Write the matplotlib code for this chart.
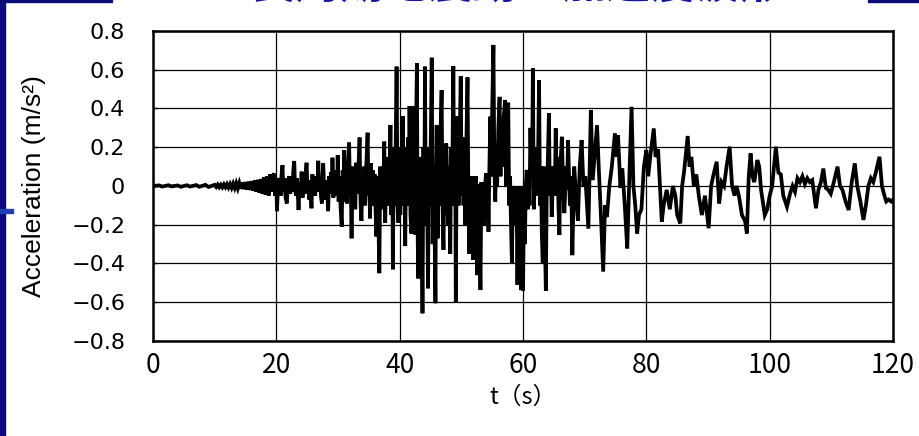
import matplotlib
matplotlib.use('Agg')
import matplotlib.pyplot as plt
from matplotlib.patches import Rectangle

# accelerogram: (t in s, acceleration in m/s^2)
early = [
    (0, 0), (1, 0.003), (1.5, -0.003), (2.5, 0.004), (3, -0.002), (4, 0.003),
    (4.5, -0.004), (5.5, 0.004), (6, -0.003), (7, 0.005), (7.5, -0.004), (8.5, 0.006),
    (9, -0.005), (10.0, 0.006), (10.25, -0.005), (10.5, 0.007), (10.75, -0.006),
    (11.0, 0.006), (11.25, -0.007), (11.5, 0.008), (11.75, -0.006), (12.0, 0.009),
    (12.25, -0.008), (12.5, 0.01), (12.75, -0.009), (13.0, 0.012), (13.25, -0.01),
    (13.5, 0.014), (13.75, -0.012), (14.0, 0.015), (14.25, -0.014), (14.5, 0.018),
    (14.75, -0.016), (15.0, 0.02), (15.25, -0.018), (15.5, 0.022), (15.75, -0.02),
    (16.0, 0.025), (16.25, -0.024), (16.5, 0.028), (16.75, -0.03), (17.0, 0.032),
    (17.25, -0.034), (17.5, 0.036), (17.75, -0.04), (18.0, 0.045), (18.25, -0.045),
    (18.5, 0.05), (18.75, -0.05),
]

strong = [
    (19.0, 0.06), (19.2, -0.03), (19.4, 0.05), (19.6, 0.065), (19.8, -0.05), (20.0, 0.03),
    (20.1, -0.13), (20.3, 0.02), (20.5, 0.04), (20.7, -0.05), (20.85, 0.06), (21.0, 0.108),
    (21.15, -0.03), (21.3, 0.04), (21.5, -0.06), (21.7, -0.09), (21.9, 0.03), (22.1, 0.05),
    (22.25, -0.04), (22.4, 0.02), (22.6, -0.03), (22.75, 0.08), (22.9, 0.129),
    (23.05, -0.02), (23.2, -0.05), (23.35, 0.04), (23.5, -0.06), (23.6, -0.124),
    (23.8, 0.02), (23.95, -0.03), (24.1, 0.074), (24.25, -0.06), (24.4, 0.03),
    (24.6, -0.04), (24.75, 0.06), (24.9, 0.12), (25.05, -0.02), (25.2, 0.03),
    (25.35, -0.07), (25.5, 0.02), (25.7, -0.115), (25.85, 0.06), (26.0, -0.04),
    (26.15, 0.03), (26.3, -0.05), (26.5, 0.05), (26.65, -0.03), (26.8, 0.13),
    (26.95, -0.02), (27.1, 0.04), (27.25, -0.06), (27.4, -0.09), (27.5, 0.05),
    (27.6, 0.117), (27.75, -0.02), (27.9, 0.03), (28.05, -0.07), (28.2, 0.02),
    (28.4, -0.13), (28.55, 0.05), (28.7, -0.04), (28.85, 0.07), (29.0, -0.03),
    (29.1, 0.146), (29.25, -0.06), (29.4, 0.04), (29.55, -0.05), (29.7, 0.08),
    (29.85, -0.02), (29.95, 0.16), (30.1, -0.08), (30.25, 0.05), (30.4, -0.1),
    (30.6, -0.21), (30.75, 0.08), (30.9, -0.05), (31.0, 0.186), (31.15, -0.08),
    (31.3, 0.05), (31.45, -0.09), (31.6, 0.1), (31.8, 0.224), (31.95, -0.05),
    (32.05, 0.06), (32.2, -0.27), (32.35, 0.1), (32.5, -0.06), (32.65, 0.07),
    (32.8, -0.12), (32.95, 0.12), (33.1, -0.04), (33.3, 0.08), (33.5, 0.25),
    (33.65, -0.08), (33.8, -0.18), (33.95, 0.05), (34.1, -0.06), (34.25, 0.1),
    (34.4, -0.1), (34.6, 0.12), (34.8, 0.275), (34.95, -0.05), (35.05, 0.06),
    (35.2, -0.167), (35.35, 0.117), (35.5, -0.05), (35.65, 0.08), (35.8, -0.1),
    (35.95, 0.06), (36.1, -0.12), (36.2, -0.26), (36.35, 0.05), (36.5, -0.08),
    (36.7, -0.45), (36.85, 0.1), (37.0, -0.12), (37.15, 0.08), (37.3, -0.1),
    (37.5, 0.229), (37.65, -0.19), (37.8, 0.05), (37.95, -0.1), (38.1, 0.15),
    (38.3, -0.1), (38.5, 0.315), (38.65, -0.15), (38.8, 0.1), (38.9, -0.43),
    (39.05, 0.2), (39.2, -0.1), (39.35, 0.2), (39.5, 0.616), (39.65, -0.1),
    (39.8, -0.19), (39.95, 0.15), (40.1, -0.15), (40.25, 0.2), (40.4, -0.05),
    (40.5, 0.361), (40.65, -0.1), (40.8, 0.1), (40.9, -0.31), (41.05, 0.2),
    (41.2, -0.1), (41.35, 0.25), (41.5, -0.05), (41.6, 0.413), (41.75, -0.15),
    (41.9, -0.245), (42.05, 0.2), (42.2, 0.41), (42.35, -0.1), (42.5, -0.25),
    (42.65, 0.3), (42.8, 0.633), (42.9, -0.2), (43.0, -0.477), (43.15, 0.1),
    (43.3, -0.2), (43.45, 0.15), (43.6, -0.3), (43.7, -0.657), (43.85, 0.2),
    (44.0, -0.1), (44.1, 0.616), (44.25, -0.2), (44.4, 0.1), (44.6, -0.528),
    (44.75, 0.2), (44.9, -0.1), (45.05, 0.25), (45.2, 0.662), (45.35, -0.3),
    (45.5, 0.1), (45.65, -0.2), (45.8, -0.605), (45.9, 0.1), (46.0, 0.315),
    (46.15, -0.27), (46.3, 0.1), (46.45, -0.1), (46.6, 0.25), (46.8, 0.495),
    (46.95, -0.1), (47.1, -0.33), (47.25, 0.1), (47.4, -0.15), (47.55, 0.22),
    (47.7, 0.05), (47.85, -0.2), (48.0, 0.1), (48.2, -0.35), (48.35, 0.2),
    (48.5, -0.05), (48.7, 0.619), (48.85, -0.1), (49.0, 0.2), (49.1, -0.6),
    (49.25, 0.2), (49.4, 0.36), (49.55, -0.1), (49.7, 0.2), (49.9, 0.567),
    (50.05, -0.05), (50.2, 0.25), (50.35, -0.1), (50.5, 0.1), (50.65, -0.2),
    (50.8, 0.2), (51.0, 0.56), (51.15, -0.1), (51.3, -0.35), (51.45, 0.05),
    (51.6, -0.15), (51.75, 0.05), (51.9, -0.38), (52.05, 0.0), (52.2, -0.15),
    (52.35, 0.05), (52.5, -0.2), (52.6, -0.46), (52.75, 0.01), (52.9, -0.2),
    (53.1, -0.537), (53.25, 0.02), (53.4, -0.1), (53.55, 0.0), (53.7, -0.2),
    (53.85, 0.0), (54.0, 0.065), (54.15, -0.1), (54.3, 0.0), (54.4, -0.236),
    (54.55, 0.1), (54.7, 0.358), (54.85, 0.05), (54.95, 0.3), (55.2, 0.728),
    (55.35, 0.1), (55.5, -0.08), (55.65, 0.15), (55.8, 0.0), (56.0, 0.3),
    (56.2, 0.46), (56.35, 0.05), (56.5, 0.3), (56.7, 0.1), (56.85, 0.35),
    (57.1, 0.444), (57.25, 0.0), (57.4, 0.2), (57.6, 0.43), (57.75, -0.1),
    (57.9, 0.05), (58.05, -0.2), (58.2, -0.4), (58.35, 0.0), (58.5, -0.15),
    (58.65, 0.0), (58.8, -0.2), (58.95, -0.05), (59.1, -0.51), (59.25, 0.0),
    (59.4, -0.15), (59.55, -0.05), (59.7, -0.537), (59.85, 0.0), (60.0, -0.54),
    (60.15, -0.1), (60.3, -0.3), (60.45, 0.0), (60.6, 0.083), (60.75, -0.12),
    (60.9, 0.05), (61.05, -0.1), (61.2, 0.3), (61.35, 0.05), (61.5, 0.2),
    (61.6, 0.607), (61.75, -0.12), (61.9, 0.1), (62.05, -0.05), (62.2, 0.2),
    (62.4, 0.05), (62.6, 0.547), (62.75, -0.1), (62.9, 0.1), (63.05, -0.25),
    (63.2, -0.4), (63.35, 0.1), (63.5, -0.2), (63.7, -0.54), (63.85, 0.0),
    (64.0, 0.1), (64.2, 0.375), (64.35, -0.05), (64.5, 0.1), (64.65, -0.16),
    (64.8, 0.0), (65.0, 0.1), (65.15, -0.05), (65.3, 0.297), (65.45, 0.0),
    (65.6, 0.15), (65.75, -0.1), (65.9, -0.253), (66.05, 0.1),
]

coda = [
    (66.3, 0.254), (66.5, 0.0), (66.7, -0.14), (67.0, 0.1), (67.15, -0.02), (67.3, 0.237),
    (67.6, -0.1), (67.8, 0.05), (68.0, -0.357), (68.3, 0.1), (68.6, -0.05), (68.9, -0.18),
    (69.2, 0.1), (69.5, 0.237), (69.8, 0.0), (70.1, 0.05), (70.6, -0.22), (71.0, 0.392),
    (71.3, 0.03), (71.6, 0.15), (72.0, 0.314), (72.3, 0.08), (72.6, -0.13), (73.0, -0.442),
    (73.3, -0.1), (73.6, -0.16), (74.0, 0.0), (74.4, 0.1), (74.9, 0.272), (75.2, 0.15),
    (75.4, 0.262), (75.8, -0.01), (76.1, 0.09), (76.5, -0.1), (76.9, -0.322), (77.2, 0.0),
    (77.6, 0.409), (77.9, 0.0), (78.2, -0.1), (78.5, -0.245), (78.8, -0.15), (79.2, -0.12),
    (79.6, 0.1), (80.0, 0.186), (80.3, 0.05), (80.7, 0.17), (81.2, 0.297), (81.5, 0.15),
    (81.9, 0.19), (82.2, 0.0), (82.5, -0.184), (82.8, -0.1), (83.3, -0.02), (83.8, -0.12),
    (84.3, 0.0), (84.7, -0.05), (85.0, -0.15), (85.5, -0.193), (85.8, 0.0), (86.1, 0.07),
    (86.7, 0.258), (87.0, 0.1), (87.3, 0.15), (87.7, 0.0), (88.1, 0.06), (88.5, -0.05),
    (89.0, -0.15), (89.5, -0.05), (90.1, -0.218), (90.5, 0.0), (90.9, 0.06), (91.4, 0.125),
    (91.8, -0.09), (92.2, 0.02), (92.6, 0.0), (93.0, 0.1), (93.5, 0.203), (93.9, 0.0),
    (94.3, -0.05), (94.6, 0.0), (95.0, -0.05), (95.5, -0.15), (96.0, -0.18), (96.3, -0.245),
    (96.6, 0.05), (96.9, 0.168), (97.2, 0.05), (97.5, 0.02), (98.0, 0.134), (98.3, 0.1),
    (98.6, -0.02), (99.2, -0.15), (99.6, -0.12), (100.0, -0.05), (100.4, 0.0),
    (101.0, 0.203), (101.4, 0.07), (101.8, 0.06), (102.2, -0.05), (102.8, -0.107),
    (103.3, -0.04), (103.7, 0.0), (104.1, -0.03), (104.5, 0.04), (104.9, 0.02),
    (105.3, 0.05), (105.7, 0.01), (106.1, 0.04), (106.5, 0.02), (106.9, 0.03),
    (107.5, -0.115), (107.9, -0.02), (108.3, 0.02), (108.7, 0.09), (109.1, -0.01),
    (109.5, -0.02), (109.9, -0.04), (110.4, 0.02), (111.0, 0.1), (111.4, 0.0),
    (111.8, -0.02), (112.3, -0.08), (112.8, -0.124), (113.3, 0.02), (113.8, 0.117),
    (114.2, 0.0), (114.7, -0.08), (115.2, -0.175), (115.6, -0.1), (116.0, 0.0),
    (116.4, 0.04), (116.8, 0.02), (117.2, 0.07), (117.8, 0.151), (118.2, 0.0),
    (118.6, -0.05), (118.9, -0.08), (119.3, -0.07), (119.7, -0.08), (120, -0.07),
]

x_ticks = [0, 20, 40, 60, 80, 100, 120]
y_ticks = [-0.8, -0.6, -0.4, -0.2, 0, 0.2, 0.4, 0.6, 0.8]
y_tick_labels = ['\u22120.8', '\u22120.6', '\u22120.4', '\u22120.2', '0',
                 '0.2', '0.4', '0.6', '0.8']
title = '長周期地震動の加速度波形'

time_s = [p[0] for p in early + strong + coda]
accel = [p[1] for p in early + strong + coda]

fig = plt.figure(figsize=(9.2, 4.36), dpi=100)
ax = fig.add_axes([0.1663, 0.2179, 0.8044, 0.711])

ax.plot(time_s, accel, color='black', linewidth=2.7, solid_joinstyle='miter')

ax.set_xlim(0, 120)
ax.set_ylim(-0.8, 0.8)
ax.set_xticks(x_ticks)
ax.set_yticks(y_ticks)
ax.set_yticklabels(y_tick_labels, family='DejaVu Sans', fontsize=16)
ax.set_xticklabels([str(v) for v in x_ticks],
                   family=['Noto Sans CJK JP', 'DejaVu Sans'], fontsize=19)
ax.tick_params(axis='y', direction='in', length=3, width=1, pad=20)
ax.tick_params(axis='x', direction='in', length=0, pad=8)
ax.grid(True, color='black', linewidth=0.9)
for sp in ax.spines.values():
    sp.set_linewidth(1.8)

ax.set_xlabel('t\uff08s\uff09', family=['Noto Sans CJK JP', 'DejaVu Sans'],
              fontsize=17, labelpad=5)
ax.set_ylabel('Acceleration (m/s²)', family='Liberation Sans', fontsize=19)
ax.yaxis.set_label_coords(-0.145, 0.5)

# slide frame bits
navy = '#0b0b7a'
fig.patches.append(Rectangle((0, 0), 5 / 920, 1, transform=fig.transFigure,
                             color=navy, zorder=5))
fig.patches.append(Rectangle((0, 1 - 2 / 436), 112 / 920, 2 / 436,
                             transform=fig.transFigure, color=navy, zorder=5))
fig.patches.append(Rectangle((868 / 920, 1 - 2 / 436), 52 / 920, 2 / 436,
                             transform=fig.transFigure, color=navy, zorder=5))
fig.patches.append(Rectangle((0, 1 - 213 / 436), 13 / 920, 4 / 436,
                             transform=fig.transFigure, color='#2040b0', zorder=5))

fig.text(0.563, 1 + 2 / 436, title, color='#1414a0', fontsize=32,
         family=['Noto Sans CJK JP', 'DejaVu Sans'], ha='center', va='baseline',
         fontweight='bold')

fig.savefig('out.png', dpi=100)
